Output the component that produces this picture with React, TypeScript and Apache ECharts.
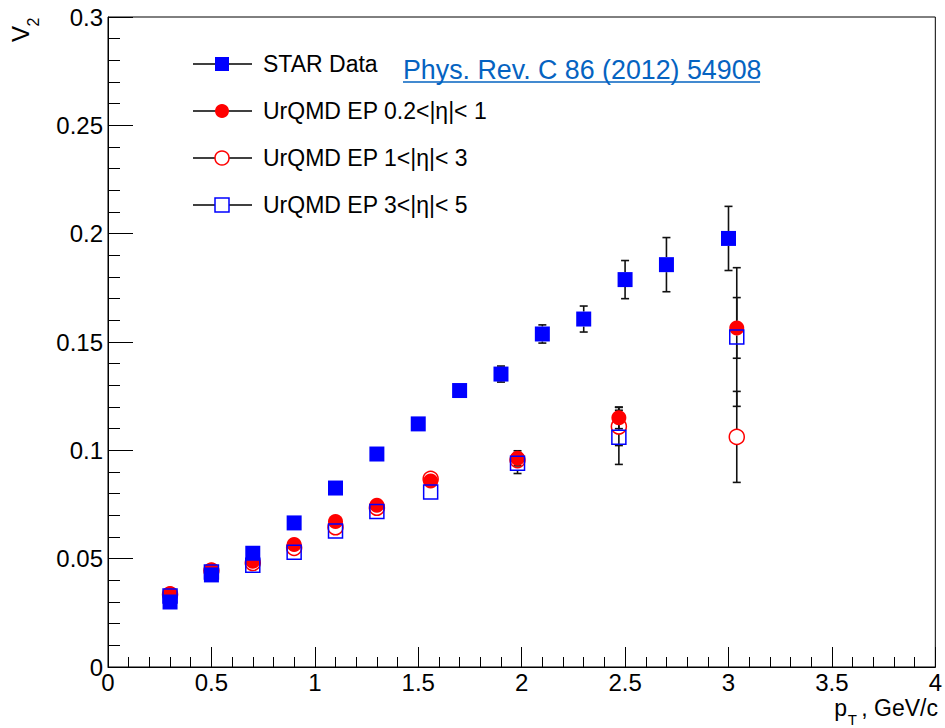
import React, { useEffect, useRef } from "react";
import * as echarts from "echarts";

// ---- data ----
const starPt = [0.3, 0.5, 0.7, 0.9, 1.1, 1.3, 1.5, 1.7, 1.9, 2.1, 2.3, 2.5, 2.7, 3.0];
const starV2 = [0.030, 0.0425, 0.0525, 0.0665, 0.0826, 0.0983, 0.1122, 0.1276, 0.1352, 0.1537, 0.1606, 0.1788, 0.1857, 0.1978];
const starErr = [0.001, 0.001, 0.001, 0.001, 0.001, 0.001, 0.0015, 0.0015, 0.0037, 0.0042, 0.006, 0.0088, 0.0125, 0.0148];

const urqmdPt = [0.3, 0.5, 0.7, 0.9, 1.1, 1.3, 1.56, 1.98, 2.47, 3.04];
const eta02V2 = [0.0337, 0.0447, 0.0488, 0.0565, 0.0672, 0.0746, 0.0858, 0.0963, 0.115, 0.1565];
const eta02Err = [0.001, 0.001, 0.001, 0.001, 0.001, 0.0012, 0.0015, 0.0035, 0.005, 0.014];
const eta13V2 = [0.0335, 0.0445, 0.048, 0.055, 0.0645, 0.0735, 0.0868, 0.0955, 0.111, 0.1062];
const eta13Err = [0.001, 0.001, 0.001, 0.0012, 0.0012, 0.0015, 0.0018, 0.003, 0.0088, 0.021];
const eta35V2 = [0.0328, 0.0438, 0.047, 0.053, 0.0628, 0.0718, 0.0808, 0.094, 0.106, 0.1523];
const eta35Err = [0.001, 0.001, 0.001, 0.0012, 0.0012, 0.0015, 0.0018, 0.0047, 0.0125, 0.032];

const legendLabels = ["STAR Data", "UrQMD EP 0.2<|η|< 1", "UrQMD EP 1<|η|< 3", "UrQMD EP 3<|η|< 5"];
const linkText = "Phys. Rev. C 86 (2012) 54908";

const FONT = "Liberation Sans, Arial, Helvetica, sans-serif";
const BLUE = "#0000ff";
const RED = "#ff0000";

function zip(xs: number[], ys: number[], es: number[]) {
  return xs.map((x, i) => [x, ys[i], es[i]]);
}

function errSeries(data: number[][], z: number) {
  return {
    type: "custom",
    z,
    silent: true,
    encode: { x: 0, y: 1 },
    data,
    renderItem: (_p: any, api: any) => {
      const x = api.value(0), y = api.value(1), e = api.value(2);
      const c = api.coord([x, y]);
      const t = api.coord([x, y + e]);
      const b = api.coord([x, y - e]);
      const r = 7.5, cw = 4;
      const st = { stroke: "#111", lineWidth: 1.6 };
      const ch: any[] = [];
      if (c[1] - t[1] > r) {
        ch.push({ type: "line", shape: { x1: c[0], y1: t[1], x2: c[0], y2: c[1] - r }, style: st });
        ch.push({ type: "line", shape: { x1: c[0] - cw, y1: t[1], x2: c[0] + cw, y2: t[1] }, style: st });
      }
      if (b[1] - c[1] > r) {
        ch.push({ type: "line", shape: { x1: c[0], y1: c[1] + r, x2: c[0], y2: b[1] }, style: st });
        ch.push({ type: "line", shape: { x1: c[0] - cw, y1: b[1], x2: c[0] + cw, y2: b[1] }, style: st });
      }
      return { type: "group", children: ch };
    },
  };
}

function legendGraphics() {
  const rows = [64, 111, 158, 205];
  const mx = 222;
  const els: any[] = [];
  rows.forEach((y, i) => {
    els.push({ type: "line", shape: { x1: 193, y1: y, x2: 252, y2: y }, style: { stroke: "#000", lineWidth: 1.5 } });
    if (i === 0) els.push({ type: "rect", shape: { x: mx - 7, y: y - 7, width: 14, height: 14 }, style: { fill: BLUE } });
    if (i === 1) els.push({ type: "circle", shape: { cx: mx, cy: y, r: 7 }, style: { fill: RED } });
    if (i === 2) els.push({ type: "circle", shape: { cx: mx, cy: y, r: 7 }, style: { fill: "#fff", stroke: RED, lineWidth: 1.5 } });
    if (i === 3) els.push({ type: "rect", shape: { x: mx - 7, y: y - 7, width: 14, height: 14 }, style: { fill: "#fff", stroke: BLUE, lineWidth: 1.5 } });
    els.push({
      type: "text", x: 263, y,
      style: { text: legendLabels[i], font: `23px ${FONT}`, fill: "#000", verticalAlign: "middle", align: "left" },
    });
  });
  els.push({
    type: "text", x: 403, y: 70,
    style: { text: linkText, font: `26.8px ${FONT}`, fill: "#0563c1", verticalAlign: "middle", align: "left" },
  });
  els.push({ type: "line", shape: { x1: 403, y1: 82, x2: 760, y2: 82 }, style: { stroke: "#0563c1", lineWidth: 1.5 } });
  return els;
}

export default function App() {
  const ref = useRef<HTMLDivElement>(null);
  useEffect(() => {
    if (!ref.current) return;
    const chart = echarts.init(ref.current, undefined, { renderer: "svg" });
    const axisLabel = { fontSize: 24, color: "#000", fontFamily: FONT };
    chart.setOption({
      animation: false,
      backgroundColor: "#fff",
      grid: { left: 108, right: 7, top: 17, bottom: 61, show: true, borderColor: "#000", borderWidth: 1 },
      xAxis: {
        type: "value", min: 0, max: 4, interval: 0.5,
        axisLine: { show: true, lineStyle: { color: "#000", width: 1 } },
        axisTick: { show: true, inside: true, length: 20, lineStyle: { color: "#000", width: 1 } },
        minorTick: { show: true, splitNumber: 5, length: 10, lineStyle: { color: "#000", width: 1 } },
        splitLine: { show: false },
        axisLabel: { ...axisLabel, margin: 5, lineHeight: 20 },
      },
      yAxis: {
        type: "value", min: 0, max: 0.3, interval: 0.05,
        axisLine: { show: true, lineStyle: { color: "#000", width: 1 } },
        axisTick: { show: true, inside: true, length: 25, lineStyle: { color: "#000", width: 1 } },
        minorTick: { show: true, splitNumber: 5, length: 12, lineStyle: { color: "#000", width: 1 } },
        splitLine: { show: false },
        axisLabel: { ...axisLabel, margin: 5 },
      },
      graphic: [
        ...legendGraphics(),
        {
          type: "group", x: 20, y: 34, rotation: Math.PI / 2,
          children: [
            { type: "text", x: 0, y: 0, style: { text: "V", font: `24px ${FONT}`, fill: "#000", align: "center", verticalAlign: "middle" } },
            { type: "text", x: 12, y: 13, style: { text: "2", font: `16px ${FONT}`, fill: "#000", align: "center", verticalAlign: "middle" } },
          ],
        },
        { type: "text", x: 938, y: 708, style: { text: ", GeV/c", font: `23px ${FONT}`, fill: "#000", align: "right", verticalAlign: "middle", lineHeight: 18 } },
        { type: "text", x: 857, y: 719, style: { text: "T", font: `15px ${FONT}`, fill: "#000", align: "right", verticalAlign: "middle", lineHeight: 10 } },
        { type: "text", x: 847, y: 708, style: { text: "p", font: `23px ${FONT}`, fill: "#000", align: "right", verticalAlign: "middle", lineHeight: 18 } },
      ],
      series: [
        errSeries(zip(urqmdPt, eta13V2, eta13Err), 1),
        errSeries(zip(urqmdPt, eta02V2, eta02Err), 1),
        errSeries(zip(urqmdPt, eta35V2, eta35Err), 1),
        errSeries(zip(starPt, starV2, starErr), 1),
        {
          type: "scatter", name: legendLabels[2], z: 3, symbol: "circle", symbolSize: 15,
          data: urqmdPt.map((x, i) => [x, eta13V2[i]]),
          itemStyle: { color: "rgba(0,0,0,0)", borderColor: RED, borderWidth: 1.5, opacity: 1 },
        },
        {
          type: "scatter", name: legendLabels[1], z: 4, symbol: "circle", symbolSize: 15,
          data: urqmdPt.map((x, i) => [x, eta02V2[i]]),
          itemStyle: { color: RED, opacity: 1 },
        },
        {
          type: "scatter", name: legendLabels[3], z: 5, symbol: "rect", symbolSize: 14,
          data: urqmdPt.map((x, i) => [x, eta35V2[i]]),
          itemStyle: { color: "rgba(0,0,0,0)", borderColor: BLUE, borderWidth: 1.5, opacity: 1 },
        },
        {
          type: "scatter", name: legendLabels[0], z: 6, symbol: "rect", symbolSize: 15,
          data: starPt.map((x, i) => [x, starV2[i]]),
          itemStyle: { color: BLUE, opacity: 1 },
        },
      ],
    });
    return () => chart.dispose();
  }, []);
  return <div ref={ref} style={{ position: "fixed", left: 0, top: 0, width: 945, height: 728 }} />;
}
